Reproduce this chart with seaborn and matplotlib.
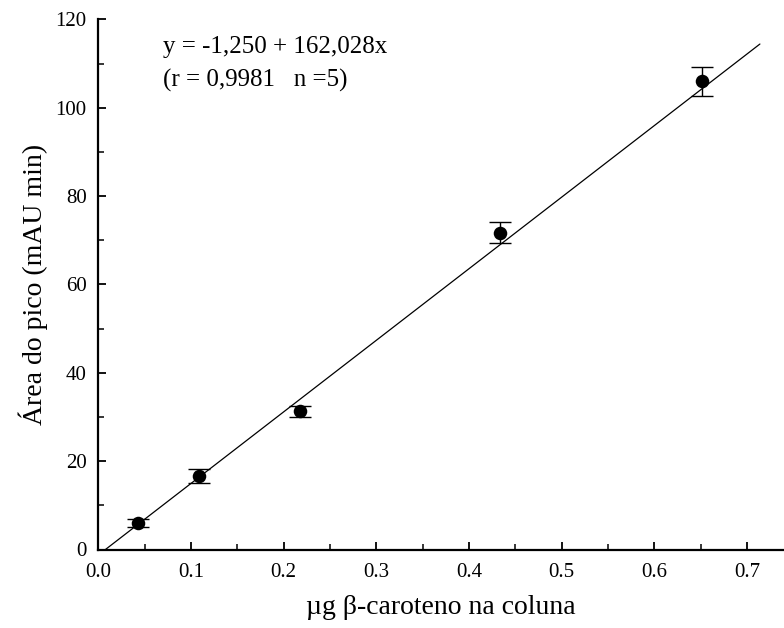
import numpy as np
import pandas as pd
import matplotlib
matplotlib.use("Agg")
import matplotlib.pyplot as plt
from matplotlib.ticker import MultipleLocator
import seaborn as sns

# data
beta_caroteno = [0.043, 0.109, 0.218, 0.433, 0.652]
area_pico = [6.1, 16.7, 31.3, 71.7, 106.0]
area_err = [0.9, 1.6, 1.2, 2.4, 3.3]

intercept = -1.250
slope = 162.028
fit_x = [0.0, 0.714]

sns.set_style("ticks")
plt.rcParams["font.family"] = ["Liberation Serif", "DejaVu Serif"]
plt.rcParams["text.color"] = "black"
plt.rcParams["axes.labelcolor"] = "black"


def plot_calibration():
    fig = plt.figure(figsize=(7.84, 6.28), dpi=100)
    ax = fig.add_axes([0.1254, 0.125, 0.8746, 0.844])

    fit = pd.DataFrame({"x": fit_x})
    fit["y"] = intercept + slope * fit["x"]
    sns.lineplot(data=fit, x="x", y="y", ax=ax, color="black", linewidth=0.9)

    ax.errorbar(beta_caroteno, area_pico, yerr=area_err, fmt="none",
                ecolor="black", elinewidth=1.0, capsize=8, capthick=1.0, zorder=3)
    df = pd.DataFrame({"x": beta_caroteno, "y": area_pico})
    sns.scatterplot(data=df, x="x", y="y", ax=ax, color="black", s=95,
                    edgecolor="black", linewidth=0, zorder=4)

    ax.set_xlim(0, 0.74)
    ax.set_ylim(0, 120)
    ax.xaxis.set_minor_locator(MultipleLocator(0.05))
    ax.yaxis.set_major_locator(MultipleLocator(20))
    ax.yaxis.set_minor_locator(MultipleLocator(10))
    xt = np.arange(0, 0.71, 0.1)
    ax.set_xticks(xt)
    ax.set_xticklabels([f"{v:.1f}" for v in xt])

    ax.tick_params(which="major", direction="in", length=6, width=1.3,
                   labelsize=15, colors="black")
    ax.tick_params(axis="x", which="major", pad=10)
    ax.tick_params(axis="y", which="major", pad=8.5)
    ax.tick_params(which="minor", direction="in", length=4, width=1.3)
    for side in ["left", "bottom"]:
        ax.spines[side].set_linewidth(1.6)
        ax.spines[side].set_color("black")
    sns.despine(ax=ax)

    ax.set_xlabel("µg β-caroteno na coluna", fontsize=20, labelpad=9)
    ax.set_ylabel("Área do pico (mAU min)", fontsize=20, labelpad=5)

    ax.text(0.0695, 113.8, "y = -1,250 + 162,028x", fontsize=18, va="center")
    ax.text(0.0695, 106.2, "(r = 0,9981   n =5)", fontsize=18, va="center")

    fig.savefig("out.png", dpi=100)
    plt.close(fig)


if __name__ == "__main__":
    plot_calibration()
